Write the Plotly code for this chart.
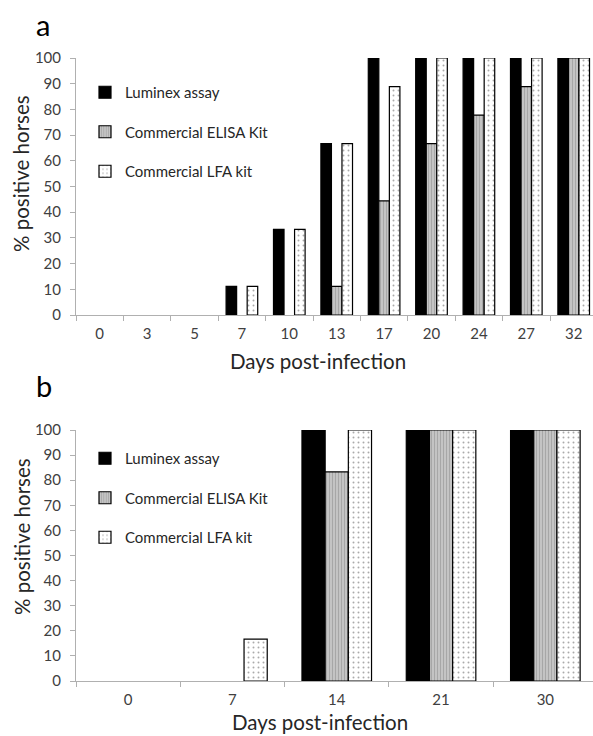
import plotly.graph_objects as go

# ---- data ----
days_a = ["0", "3", "5", "7", "10", "13", "17", "20", "24", "27", "32"]
luminex_a = [0, 0, 0, 11.1, 33.3, 66.7, 100, 100, 100, 100, 100]
elisa_a = [0, 0, 0, 0, 0, 11.1, 44.4, 66.7, 77.8, 88.9, 100]
lfa_a = [0, 0, 0, 11.1, 33.3, 66.7, 88.9, 100, 100, 100, 100]

days_b = ["0", "7", "14", "21", "30"]
luminex_b = [0, 0, 100, 100, 100]
elisa_b = [0, 0, 83.3, 100, 100]
lfa_b = [0, 16.7, 100, 100, 100]

series_names = ["Luminex assay", "Commercial ELISA Kit", "Commercial LFA kit"]
y_ticks = [0, 10, 20, 30, 40, 50, 60, 70, 80, 90, 100]

W, H = 593, 736
FONT = "Lato"
TICK_COL = "#404040"
AXIS_COL = "#b0b0b0"

styles = [
    dict(color="black", line=dict(color="black", width=1.2)),
    dict(color="#b4b4b4", line=dict(color="black", width=1.2),
         pattern=dict(shape="|", fgcolor="#8a8a8a", bgcolor="#c4c4c4", size=3, solidity=0.35)),
    dict(color="white", line=dict(color="black", width=1.2),
         pattern=dict(shape=".", fgcolor="#555555", bgcolor="white", size=5, solidity=0.12)),
]


def nz(vals):
    # zero-height bars are not drawn in the original chart
    return [v if v > 0 else None for v in vals]


fig = go.Figure()

for i, (name, vals) in enumerate(zip(series_names, [luminex_a, elisa_a, lfa_a])):
    fig.add_trace(go.Bar(x=days_a, y=nz(vals), name=name, marker=styles[i],
                         xaxis="x", yaxis="y", legend="legend",
                         legendgroup=f"a{i}", showlegend=True))
for i, (name, vals) in enumerate(zip(series_names, [luminex_b, elisa_b, lfa_b])):
    fig.add_trace(go.Bar(x=days_b, y=nz(vals), name=name, marker=styles[i],
                         xaxis="x2", yaxis="y2", legend="legend2",
                         legendgroup=f"b{i}", showlegend=True))


def px_y(y):
    return 1 - y / H


def px_x(x):
    return x / W


x_dom = [px_x(76), 1.0]
xcommon = dict(type="category", showline=True, linecolor=AXIS_COL, linewidth=1,
               ticks="outside", tickson="boundaries", ticklen=5, tickcolor=AXIS_COL,
               tickfont=dict(family=FONT, size=15, color=TICK_COL),
               showgrid=False, zeroline=False, ticklabelstandoff=5, automargin=False)
ycommon = dict(range=[0, 100], tickvals=y_ticks, showline=True, linecolor=AXIS_COL,
               linewidth=1, ticks="outside", ticklen=5, tickcolor=AXIS_COL,
               tickfont=dict(family=FONT, size=15, color=TICK_COL),
               showgrid=False, zeroline=False, ticklabelstandoff=6, automargin=False)

legcommon = dict(font=dict(family=FONT, size=15, color="#262626"),
                 bgcolor="rgba(0,0,0,0)", borderwidth=0, tracegroupgap=17,
                 xanchor="left", yanchor="top", itemclick=False)

fig.update_layout(
    width=W, height=H,
    margin=dict(l=0, r=0, t=0, b=0, autoexpand=False),
    paper_bgcolor="white", plot_bgcolor="white",
    barmode="group", bargap=0.333, bargroupgap=0,
    xaxis=dict(domain=x_dom, range=[-0.5, -0.5 + 517 / 47.4], anchor="y", **xcommon),
    yaxis=dict(domain=[px_y(315), px_y(58)], anchor="x", **ycommon),
    xaxis2=dict(domain=x_dom, range=[-0.5, -0.5 + 517 / 104.3], anchor="y2", **xcommon),
    yaxis2=dict(domain=[px_y(681), px_y(430)], anchor="x2", **ycommon),
    legend=dict(x=px_x(85), y=px_y(76), **legcommon),
    legend2=dict(x=px_x(85), y=px_y(442), **legcommon),
    showlegend=True,
)

ann = []
title_font = dict(family=FONT, size=20.5, color="#262626")
ann.append(dict(text="a", x=px_x(34), y=px_y(24), xref="paper", yref="paper",
                xanchor="left", yanchor="middle", showarrow=False,
                font=dict(family=FONT, size=29, color="black")))
ann.append(dict(text="b", x=px_x(34), y=px_y(385), xref="paper", yref="paper",
                xanchor="left", yanchor="middle", showarrow=False,
                font=dict(family=FONT, size=29, color="black")))
ann.append(dict(text="% positive horses", x=px_x(21), y=px_y(174), xref="paper", yref="paper",
                xanchor="center", yanchor="middle", textangle=-90, showarrow=False,
                font=title_font))
ann.append(dict(text="% positive horses", x=px_x(22), y=px_y(537), xref="paper", yref="paper",
                xanchor="center", yanchor="middle", textangle=-90, showarrow=False,
                font=title_font))
ann.append(dict(text="Days post-infection", x=px_x(318), y=px_y(361), xref="paper", yref="paper",
                xanchor="center", yanchor="middle", showarrow=False, font=title_font))
ann.append(dict(text="Days post-infection", x=px_x(320), y=0, xref="paper", yref="paper",
                xanchor="center", yanchor="bottom", showarrow=False, font=title_font))
fig.update_layout(annotations=ann)

fig.write_html("out.html")
